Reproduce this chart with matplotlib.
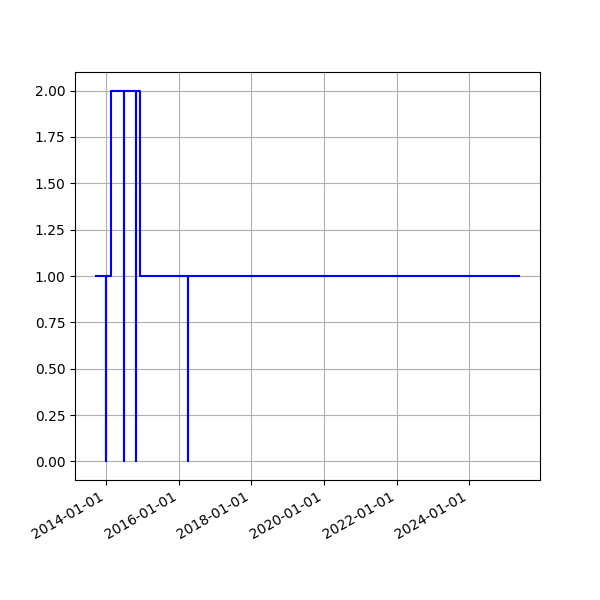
import numpy as np
import pandas as pd
import matplotlib
matplotlib.use("Agg")
import matplotlib.pyplot as plt
import matplotlib.dates as mdates

dates = pd.to_datetime([
    "2013-09-23", "2014-01-01", "2014-01-02", "2014-02-20",
    "2014-06-30", "2014-07-01", "2014-10-25", "2014-10-26",
    "2014-12-04", "2016-04-01", "2016-04-02", "2025-05-15",
])
values = [1, 0, 1, 2, 0, 2, 0, 2, 1, 0, 1, 1]

fig, ax = plt.subplots(figsize=(6, 6), dpi=100)
ax.step(dates, values, where="post", color="blue")

ax.xaxis.set_major_locator(mdates.YearLocator(2))
ax.xaxis.set_major_formatter(mdates.DateFormatter("%Y-%m-%d"))
ax.yaxis.set_major_formatter(matplotlib.ticker.FormatStrFormatter("%.2f"))
ax.grid(True)
fig.autofmt_xdate()

fig.savefig("out.png")
